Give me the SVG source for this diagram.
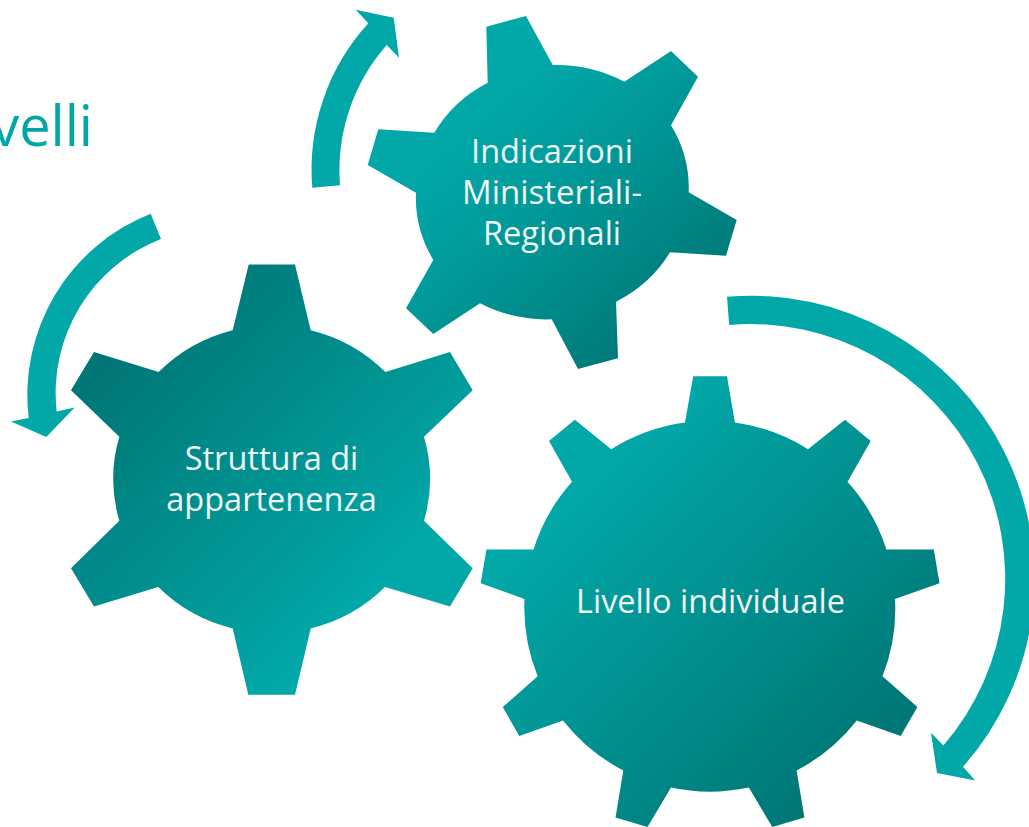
<svg xmlns="http://www.w3.org/2000/svg" width="1029" height="827" viewBox="0 0 1029 827">
<style>
.lbl{font-family:"Open Sans","Noto Sans","Liberation Sans",sans-serif;fill:#EEF6F6;font-size:32.500px;font-weight:400}
.ttl{font-family:"Open Sans","Noto Sans","Liberation Sans",sans-serif;fill:#02A6A6;font-size:56px;font-weight:400}
.arrow{fill:#02A8A8}
</style>
<defs>
<linearGradient id="g1" gradientUnits="userSpaceOnUse" x1="440" y1="70" x2="660" y2="320"><stop offset="0.15" stop-color="#02A8A8"/><stop offset="0.45" stop-color="#019C9C"/><stop offset="1" stop-color="#007A7A"/></linearGradient>
<linearGradient id="g2" gradientUnits="userSpaceOnUse" x1="110" y1="350" x2="370" y2="600"><stop offset="0" stop-color="#007575"/><stop offset="1" stop-color="#02A8A8"/></linearGradient>
<linearGradient id="g3" gradientUnits="userSpaceOnUse" x1="590" y1="470" x2="860" y2="740"><stop offset="0" stop-color="#02A8A8"/><stop offset="1" stop-color="#007878"/></linearGradient>
</defs>
<rect width="1029" height="827" fill="#FFFFFF"/>
<text class="ttl" x="93" y="146" text-anchor="end">velli</text>
<g id="connectors">
<path class="arrow" d="M312.3 187.7A217 217 0 0 1 368.3 23.3L355.7 9.7L393.7 17.7L399 57.7L386.7 45A190 190 0 0 0 340 185.3Z"/>
<path class="arrow" d="M150.700 213.700A195 195 0 0 0 28.700 418L11 421.500L46.300 437L74.700 407.500L56.700 411.400A165 165 0 0 1 161 239Z"/>
<path class="arrow" d="M727 296.8A283 283 0 0 1 963 766.7L975.2 780.4L937 772.9L931 732.8L943.4 745.5A255 255 0 0 0 729.2 324.9Z"/>
</g>
<g id="node-indicazioni">
<path fill="url(#g1)" d="M486.3 26.7L526 16L552.7 65A137 127 0 0 1 624.3 81.7L671 51L698 76.7L671 125.3A137 127 0 0 1 688.7 192.3L736.7 220L726 255.7L670 252.3A137 127 0 0 1 616 301.7L618 358.3L578 369L551.7 319.3A137 127 0 0 1 480 303.3L433.3 334L406 308.3L433.3 260A137 127 0 0 1 416 192.7L367.7 165L378.3 129.3L434.3 132.7A137 127 0 0 1 487.7 82.7Z"/>
<text class="lbl" x="552" y="162.500" text-anchor="middle">Indicazioni</text>
<text class="lbl" x="552" y="203.500" text-anchor="middle" textLength="180" lengthAdjust="spacingAndGlyphs">Ministeriali-</text>
<text class="lbl" x="552" y="244.500" text-anchor="middle">Regionali</text>
</g>
<g id="node-struttura">
<path fill="url(#g2)" d="M248.700 264.500L295 264.500L310.700 330.200A158 153.500 0 0 1 385.300 372L450 352L472.700 390.300L424 436.700A158 153.500 0 0 1 424 520.800L472.700 568.300L450 606.500L385 587A158 153.500 0 0 1 310.700 628.400L295 694.800L248.300 694.800L232.700 628.400A158 153.500 0 0 1 158.300 587L94 606.500L71 568.300L119.300 520.800A158 153.500 0 0 1 119.300 436.700L71 390.300L94 352L158.700 372A158 153.500 0 0 1 232.700 330.200Z"/>
<text class="lbl" x="271.500" y="470" text-anchor="middle">Struttura di</text>
<text class="lbl" x="271.500" y="511" text-anchor="middle">appartenenza</text>
</g>
<g id="node-livello">
<path fill="url(#g3)" d="M693.2 376.3L727 376.3L734.900 422.500A185 184 0 0 1 808 449.200L845 419.800L870.700 441L847.500 481.800A185 184 0 0 1 886.400 549.600L933.800 549.600L939.500 583.200L895 598.900A185 184 0 0 1 882.500 676.300L917.400 707.100L900.700 735.900L856.800 720.500A185 184 0 0 1 796.600 770.500L804.400 817.400L772.300 827L748.800 787.600A185 184 0 0 1 671 787.600L647.500 827L615.500 817.400L623.300 770.500A185 184 0 0 1 563 720.500L519.200 735.900L502.800 707.100L537.700 676.300A185 184 0 0 1 524.500 598.900L480.700 583.200L486.400 549.600L533.500 549.600A185 184 0 0 1 572 481.800L549 441L574.800 419.800L611.200 449.200A185 184 0 0 1 685 422.500Z"/>
<text class="lbl" x="710.500" y="613" text-anchor="middle">Livello individuale</text>
</g>
</svg>
